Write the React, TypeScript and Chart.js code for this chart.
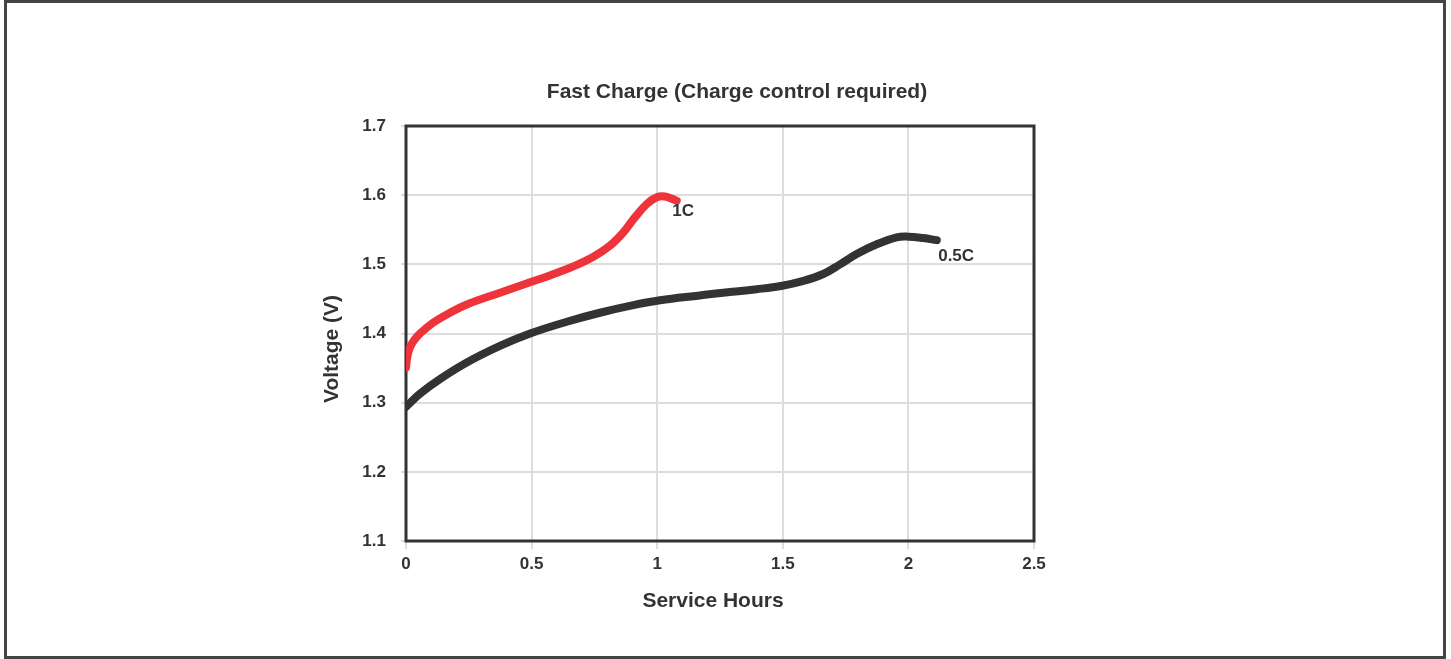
import React, { useEffect, useRef } from "react";
import { Chart, registerables } from "chart.js";

Chart.register(...registerables);

// ---- Data ----
const chartTitle = "Fast Charge (Charge control required)";
const xAxisTitle = "Service Hours";
const yAxisTitle = "Voltage (V)";

const xTickValues = [0, 0.5, 1, 1.5, 2, 2.5];
const xTickLabels = ["0", "0.5", "1", "1.5", "2", "2.5"];
const yTickValues = [1.1, 1.2, 1.3, 1.4, 1.5, 1.6, 1.7];
const yTickLabels = ["1.1", "1.2", "1.3", "1.4", "1.5", "1.6", "1.7"];

const seriesNames = ["1C", "0.5C"];

const hours1C = [0, 0.006, 0.016, 0.034, 0.056, 0.109, 0.175, 0.242, 0.374, 0.494, 0.573, 0.666, 0.746, 0.812, 0.865, 0.905, 0.958, 0.998, 1.031, 1.078];
const volts1C = [1.351, 1.368, 1.38, 1.391, 1.4, 1.416, 1.43, 1.442, 1.459, 1.474, 1.484, 1.497, 1.511, 1.527, 1.546, 1.565, 1.587, 1.597, 1.598, 1.592];

const hours05C = [0, 0.056, 0.135, 0.242, 0.374, 0.494, 0.64, 0.772, 0.905, 1.011, 1.17, 1.263, 1.396, 1.498, 1.582, 1.661, 1.728, 1.794, 1.874, 1.953, 2.0, 2.059, 2.113];
const volts05C = [1.294, 1.313, 1.334, 1.358, 1.382, 1.4, 1.417, 1.43, 1.441, 1.448, 1.455, 1.459, 1.464, 1.469, 1.476, 1.486, 1.5, 1.515, 1.529, 1.539, 1.54, 1.538, 1.535];

const labelX = [1.103, 2.19];
const labelY = [1.576, 1.511];

const FONT = "'Liberation Sans', Arial, sans-serif";
const TEXT = "#333333";

const decorPlugin = {
  id: "decor",
  beforeDraw(chart: any) {
    const ctx = chart.ctx;
    ctx.save();
    ctx.fillStyle = "#ffffff";
    ctx.fillRect(0, 0, chart.width, chart.height);
    ctx.strokeStyle = "#444444";
    ctx.lineWidth = 3;
    ctx.strokeRect(5.5, 1.5, 1439, 656);
    ctx.restore();
  },
  beforeDatasetsDraw(chart: any) {
    const { ctx, chartArea } = chart;
    ctx.save();
    ctx.strokeStyle = "#333333";
    ctx.lineWidth = 3;
    ctx.strokeRect(chartArea.left, chartArea.top, chartArea.right - chartArea.left, chartArea.bottom - chartArea.top);
    ctx.restore();
  },
  afterDraw(chart: any) {
    const ctx = chart.ctx;
    const xs = chart.scales.x;
    const ys = chart.scales.y;
    ctx.save();
    ctx.fillStyle = TEXT;
    ctx.textAlign = "center";
    ctx.textBaseline = "middle";
    ctx.font = `bold 21px ${FONT}`;
    ctx.fillText(chartTitle, 737, 92);
    ctx.font = `bold 21px ${FONT}`;
    ctx.fillText(xAxisTitle, 713, 601);
    ctx.save();
    ctx.translate(332, 349);
    ctx.rotate(-Math.PI / 2);
    ctx.fillText(yAxisTitle, 0, 0);
    ctx.restore();
    ctx.font = `bold 17px ${FONT}`;
    seriesNames.forEach((n, i) => {
      ctx.fillText(n, xs.getPixelForValue(labelX[i]), ys.getPixelForValue(labelY[i]));
    });
    ctx.restore();
  },
};

export default function App() {
  const ref = useRef<HTMLCanvasElement | null>(null);
  useEffect(() => {
    if (!ref.current) return;
    const common = {
      borderWidth: 8,
      borderCapStyle: "round",
      borderJoinStyle: "round",
      pointRadius: 0,
      tension: 0.4,
      fill: false,
    };
    const chart = new Chart(ref.current, {
      type: "line",
      data: {
        datasets: [
          {
            ...common,
            label: seriesNames[0],
            data: hours1C.map((x, i) => ({ x, y: volts1C[i] })),
            borderColor: "#EE333A",
          },
          {
            ...common,
            label: seriesNames[1],
            data: hours05C.map((x, i) => ({ x, y: volts05C[i] })),
            borderColor: "#333333",
          },
        ],
      },
      options: {
        responsive: false,
        animation: false,
        devicePixelRatio: 1,
        layout: { padding: { top: 126, right: 417, left: 0, bottom: 0 } },
        plugins: { legend: { display: false }, title: { display: false }, tooltip: { enabled: false } },
        scales: {
          x: {
            type: "linear",
            min: 0,
            max: 2.5,
            afterFit: (s: any) => { s.height = 118; },
            afterBuildTicks: (s: any) => { s.ticks = xTickValues.map((v) => ({ value: v })); },
            ticks: {
              padding: 5,
              color: TEXT,
              font: { family: FONT, size: 17, weight: "bold" },
              maxRotation: 0,
              callback: (v: any) => { const i = xTickValues.indexOf(Number(v)); return i >= 0 ? xTickLabels[i] : ""; },
            },
            grid: { color: "#dddddd", lineWidth: 2, tickLength: 8 },
            border: { display: false },
          },
          y: {
            type: "linear",
            min: 1.1,
            max: 1.7,
            afterFit: (s: any) => { s.width = 406; },
            afterBuildTicks: (s: any) => { s.ticks = yTickValues.map((v) => ({ value: v })); },
            ticks: {
              padding: 15,
              color: TEXT,
              font: { family: FONT, size: 17, weight: "bold" },
              callback: (v: any) => {
                const i = yTickValues.findIndex((t) => Math.abs(t - Number(v)) < 1e-6);
                return i >= 0 ? yTickLabels[i] : "";
              },
            },
            grid: { color: "#dddddd", lineWidth: 2, tickLength: 5 },
            border: { display: false },
          },
        },
      },
      plugins: [decorPlugin],
    } as any);
    return () => chart.destroy();
  }, []);
  return (
    <div style={{ position: "absolute", left: 0, top: 0, width: 1451, height: 659 }}>
      <canvas ref={ref} width={1451} height={659} />
    </div>
  );
}
